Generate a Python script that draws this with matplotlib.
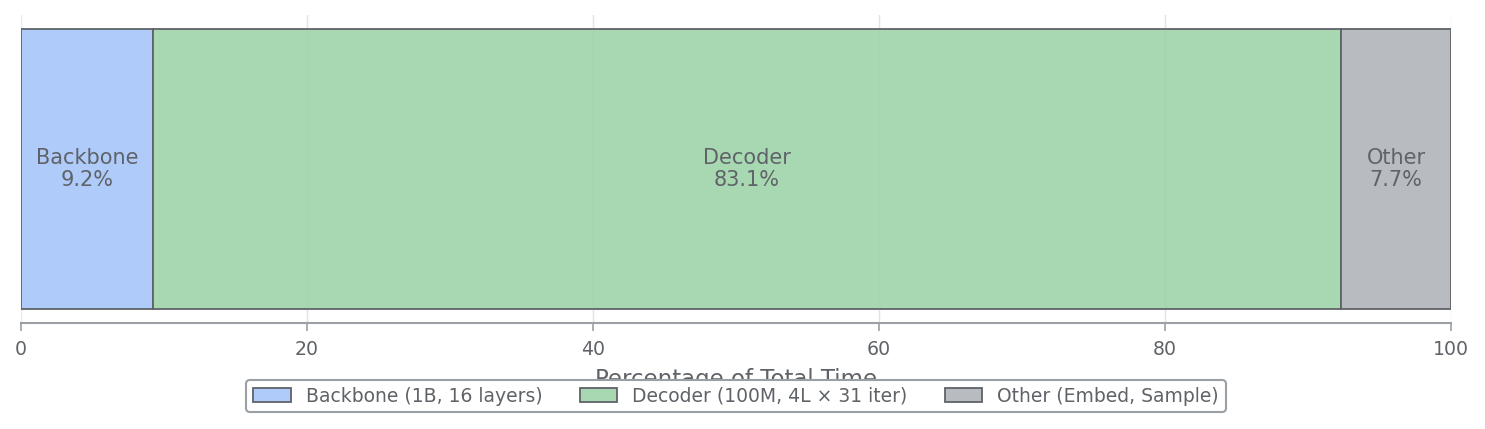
import numpy as np
import matplotlib
matplotlib.use("Agg")
import matplotlib.pyplot as plt

# Data
segments = ["Backbone", "Decoder", "Other"]
shares = [9.2, 83.1, 7.7]
legend_labels = ["Backbone (1B, 16 layers)", "Decoder (100M, 4L \u00d7 31 iter)", "Other (Embed, Sample)"]
x_ticks = [0, 20, 40, 60, 80, 100]

colors = ["#aecbfa", "#a8d8b2", "#b8bbbf"]
text_c = "#5f6368"

fig = plt.figure(figsize=(14.85, 4.29), dpi=100)
ax = fig.add_axes([21 / 1485, 106 / 429, 1430 / 1485, 308 / 429])

left = 0
bars = []
for name, val, col, lab in zip(segments, shares, colors, legend_labels):
    b = ax.barh(0, val, left=left, height=0.8, color=col, edgecolor=text_c,
                linewidth=1.3, label=lab, zorder=2)
    bars.append(b)
    ax.text(left + val / 2, 0, f"{name}\n{val:.1f}%", ha="center", va="center",
            fontsize=15, color=text_c, linespacing=1.15, zorder=3)
    left += val

ax.set_xlim(0, 100)
ax.set_ylim(-0.4385, 0.4385)
ax.set_yticks([])
ax.set_xticks(x_ticks)
ax.tick_params(axis="x", colors="#9aa0a6", labelcolor=text_c, labelsize=13.6,
               length=6, width=1.2, pad=6)
for s in ["top", "right", "left"]:
    ax.spines[s].set_visible(False)
ax.spines["bottom"].set_color("#9aa0a6")
ax.spines["bottom"].set_linewidth(1.5)
ax.grid(axis="x", color="#e8eaed", linewidth=1, zorder=0)
ax.set_axisbelow(True)
# faint grid showing through the bars
for xt in x_ticks[1:-1]:
    ax.axvline(xt, color="#9aa0a6", alpha=0.08, linewidth=1, zorder=2.5)

ax.set_xlabel("Percentage of Total Time", fontsize=16.5, color=text_c, labelpad=7)

leg = fig.legend(handles=bars, labels=legend_labels, loc="center", ncol=3,
                 bbox_to_anchor=(736 / 1485, 1 - 396 / 429), fontsize=13.5,
                 frameon=True, handlelength=2.0, columnspacing=2.0,
                 borderpad=0.35, framealpha=1)
leg.get_frame().set_edgecolor("#9aa0a6")
leg.get_frame().set_linewidth(1.5)
for t in leg.get_texts():
    t.set_color(text_c)

fig.savefig("out.png", dpi=100)
